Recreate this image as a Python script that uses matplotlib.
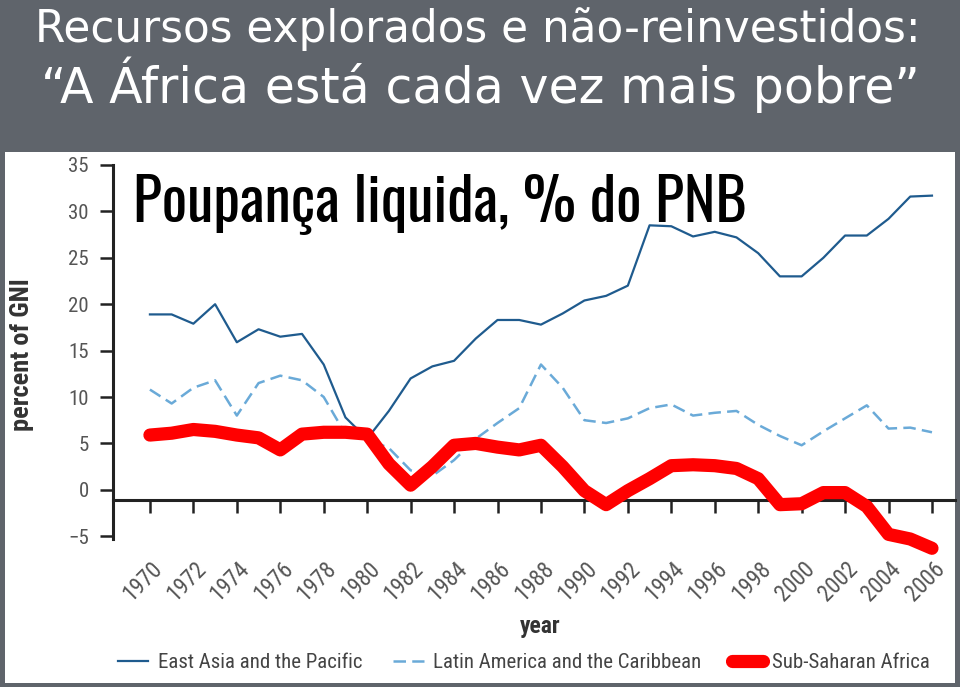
import matplotlib
matplotlib.use("Agg")
import matplotlib.pyplot as plt
from matplotlib.patches import Rectangle
from matplotlib.transforms import ScaledTranslation

# Poupança líquida (% do RNB), leitura aproximada do gráfico original
years = list(range(1970, 2007))
east_asia = [18.9, 18.9, 17.9, 20.0, 15.9, 17.3, 16.5, 16.8, 13.5, 7.8,
             5.5, 8.5, 12.0, 13.3, 13.9, 16.3, 18.3, 18.3, 17.8, 19.0,
             20.4, 20.9, 22.0, 28.5, 28.4, 27.3, 27.8, 27.2, 25.5, 23.0,
             23.0, 25.0, 27.4, 27.4, 29.2, 31.6, 31.7]
latin_america = [10.8, 9.3, 11.0, 11.8, 8.0, 11.5, 12.3, 11.8, 10.0, 6.0,
                 5.5, 4.5, 2.1, 1.5, 3.2, 5.5, 7.2, 8.8, 13.5, 11.0,
                 7.5, 7.2, 7.7, 8.8, 9.2, 8.0, 8.3, 8.5, 7.0, 5.8,
                 4.8, 6.3, 7.7, 9.1, 6.6, 6.7, 6.2]
sub_saharan = [5.9, 6.1, 6.5, 6.3, 5.9, 5.6, 4.3, 6.0, 6.2, 6.2,
               6.0, 2.8, 0.5, 2.5, 4.8, 5.0, 4.6, 4.3, 4.8, 2.5,
               -0.1, -1.6, -0.1, 1.2, 2.6, 2.7, 2.6, 2.3, 1.2, -1.6,
               -1.5, -0.3, -0.3, -1.8, -4.8, -5.3, -6.3]

series_names = ['East Asia and the Pacific', 'Latin America and the Caribbean', 'Sub-Saharan Africa']
x_ticks = list(range(1970, 2007, 2))
y_ticks = list(range(-5, 40, 5))

W, H = 960, 687
slide_gray = '#5f646b'
axis_font = 'Roboto Condensed'

fig = plt.figure(figsize=(W / 100, H / 100), dpi=100, facecolor=slide_gray)

# painel branco do gráfico
fig.add_artist(Rectangle((5 / W, 4 / H), 950 / W, 531 / H, transform=fig.transFigure,
                         facecolor='white', edgecolor='none', zorder=0))

# títulos do slide
fig.text(478 / W, 1 - 42 / H, 'Recursos explorados e não-reinvestidos:', color='white',
         fontsize=31.5, family='DejaVu Sans', ha='center', va='baseline')
fig.text(480 / W, 1 - 103 / H, '\u201cA África está cada vez mais pobre\u201d', color='white',
         fontsize=35.3, family='DejaVu Sans', ha='center', va='baseline')

ax = fig.add_axes([113 / W, (H - 539) / H, (955 - 113) / W, (539 - 165) / H])
ax.set_facecolor('none')

ax.plot(years, east_asia, color='#1f5b8e', lw=1.6, label=series_names[0], zorder=3)
ax.plot(years, latin_america, color='#6aaad8', lw=1.8, ls=(0, (5, 2.5)), label=series_names[1], zorder=3)
ax.plot(years, sub_saharan, color='#ff0000', lw=9.5, solid_capstyle='round',
        solid_joinstyle='round', label=series_names[2], zorder=4, clip_on=False)

ax.set_xlim(1968.3, 2007.06)
ax.set_ylim(-5.3, 35)

for side in ['top', 'right']:
    ax.spines[side].set_visible(False)
ax.spines['bottom'].set_position(('data', -1.05))
for side in ['left', 'bottom']:
    ax.spines[side].set_linewidth(2.2)
    ax.spines[side].set_color('#222222')

ax.set_yticks(y_ticks)
ax.set_yticklabels([str(v).replace('-', '\u2212') for v in y_ticks])
ax.set_xticks(x_ticks)
ax.set_xticklabels([str(v) for v in x_ticks], rotation=45, ha='right', rotation_mode='anchor')
ax.tick_params(axis='both', direction='out', length=9.5, width=1.8, color='#222222',
               labelcolor='#555555', labelsize=15)
ax.tick_params(axis='x', labelsize=16.5, pad=32)
ax.tick_params(axis='y', pad=8)
for lab in ax.get_yticklabels() + ax.get_xticklabels():
    lab.set_family(axis_font)
offset = ScaledTranslation(1 / 100, 0, fig.dpi_scale_trans)
for lab in ax.get_xticklabels():
    lab.set_transform(lab.get_transform() + offset)

fig.text(22 / W, 1 - 355 / H, 'percent of GNI', rotation=90, ha='center', va='center',
         fontsize=19, fontweight='bold', family=axis_font, color='#333333')
fig.text(540 / W, 1 - 627 / H, 'year', ha='center', va='center',
         fontsize=17, fontweight='bold', family=axis_font, color='#333333')

# título sobreposto
fig.text(133 / W, 1 - 222 / H, 'Poupança liquida, % do PNB', color='black', fontsize=43,
         family='Oswald', va='baseline', zorder=10)

ax.legend(loc='center', bbox_to_anchor=(524 / W, 1 - 663 / H), bbox_transform=fig.transFigure,
          ncol=3, frameon=False, handlelength=1.45, handletextpad=0.45, columnspacing=1.5,
          prop={'family': axis_font, 'size': 15}, labelcolor='#444444')

fig.savefig('out.png', dpi=100, facecolor=slide_gray)
